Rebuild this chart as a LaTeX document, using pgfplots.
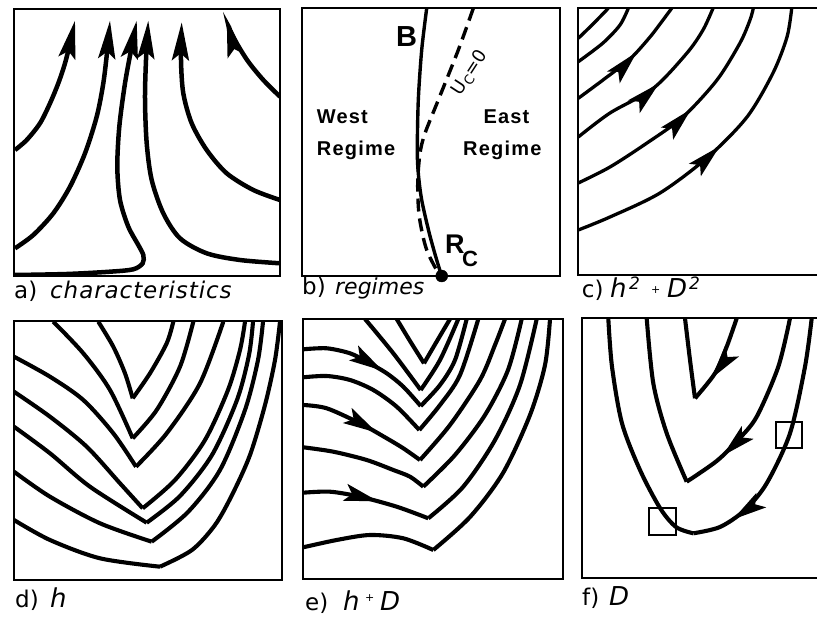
\documentclass[border=0pt]{standalone}
\usepackage{fontspec}
\setmainfont{DejaVu Sans}
\newfontfamily\hv{Liberation Sans}[LetterSpace=6]
\newfontfamily\hvn{Liberation Sans}
\newfontfamily\wide{DejaVu Sans}[LetterSpace=4]
\usepackage{pgfplots}
\pgfplotsset{compat=1.18}
\usetikzlibrary{arrows.meta,decorations.markings}
\pgfplotsset{
 panel/.style={scale only axis, xtick=\empty, ytick=\empty, y dir=reverse,
   axis line style={line width=2.1pt}, anchor=north west},
 cv/.style={line width=4.1pt, black, smooth, no markers},
 endarrow/.style={-{Stealth[length=38pt,width=17pt,inset=7pt]}},
 midarrow/.style={postaction={decorate}, decoration={markings,
   mark=at position #1 with {\arrow{Stealth[length=34pt,width=17pt,inset=7pt]}}}},
}
\newcommand{\lab}{\fontsize{23}{27}\selectfont}
\newcommand{\labi}{\fontsize{26}{30}\selectfont\itshape}
\begin{document}
\begin{tikzpicture}
\useasboundingbox (0,0) rectangle (817pt,618pt);
% ---------------- a) characteristics
\begin{axis}[panel, at={(14pt,609pt)}, width=266pt, height=267pt,
  xmin=14, xmax=280, ymin=9, ymax=276]
\addplot[cv, line width=4.5pt, endarrow] coordinates {(15,150) (26.7,140) (40,123.3) (50,103.3) (58.3,83.3) (65,63.3) (70,43.3) (75,20.7)};
\addplot[cv, line width=4.5pt, endarrow] coordinates {(15,248.3) (33.3,235) (53.3,213.3) (70,186.7) (85,153.3) (96.7,116.7) (103.3,83.3) (107.3,50) (110,20.7)};
\addplot[cv, line width=4.5pt, endarrow] coordinates {(15,275) (66.7,274) (110,271.7) (133.3,269.3) (142.7,263.3) (143.3,255) (138.3,245) (128.3,226.7) (120,200) (117.3,166.7) (119.3,126.7) (125,83.3) (131.7,46.7) (136.7,20.7)};
\addplot[cv, line width=4.5pt, endarrow] coordinates {(280,263.3) (240,260) (206.7,253.3) (180,238.3) (163.3,213.3) (151.7,180) (146.7,143.3) (145,100) (146,60) (148.3,20.7)};
\addplot[cv, line width=4.5pt, endarrow] coordinates {(280,200) (253.3,190) (226.7,173.3) (206.7,150) (191.7,123.3) (183.3,93.3) (181,60) (181.7,22.3)};
\addplot[cv, line width=4.5pt, endarrow] coordinates {(280,96.7) (263.3,80) (248.3,61.7) (236.7,43.3) (230,30) (226.7,19)};
\end{axis}
% ---------------- b) regimes
\begin{axis}[panel, at={(302pt,610pt)}, width=258pt, height=268pt,
  xmin=302, xmax=560, ymin=8, ymax=276, clip=false]
\addplot[cv, line width=3.4pt] coordinates {(426.7,8.3) (421.7,50) (418.3,100) (417.3,150) (418.3,173.3) (421.7,200) (429.3,233.3) (436.7,260) (441.7,276)};
\addplot[cv, line width=3.4pt, dash pattern=on 13pt off 7pt] coordinates {(473.3,8.3) (458.3,50) (438.3,100) (425,133.3) (420,153.3) (417.7,183.3) (419.3,216.7) (426.7,250) (440,276)};
\addplot[only marks, mark=*, mark size=6pt, black] coordinates {(441.7,276)};
\end{axis}
\node[anchor=base west, inner sep=0] at (396pt,571.3pt) {\hvn\bfseries\fontsize{29}{32}\selectfont B};
\node[anchor=base west, inner sep=0] at (316.7pt,494pt) {\hv\bfseries\fontsize{20}{22}\selectfont West};
\node[anchor=base west, inner sep=0] at (316.7pt,462pt) {\hv\bfseries\fontsize{20}{22}\selectfont Regime};
\node[anchor=base west, inner sep=0] at (483.3pt,494pt) {\hv\bfseries\fontsize{20}{22}\selectfont East};
\node[anchor=base west, inner sep=0] at (463pt,462pt) {\hv\bfseries\fontsize{20}{22}\selectfont Regime};
\node[anchor=base west, inner sep=0] at (445pt,364pt) {\hvn\bfseries\fontsize{27}{30}\selectfont R};
\node[anchor=base west, inner sep=0] at (462pt,351.3pt) {\hvn\bfseries\fontsize{22}{24}\selectfont C};
\node[rotate=57, inner sep=1pt] at (470pt,545pt) {\fontsize{18}{22}\selectfont U\raisebox{-3pt}{\fontsize{13}{13}\selectfont C}=0};
% ---------------- c) h^2 + D^2
\begin{axis}[panel, at={(578.3pt,609.7pt)}, width=242pt, height=266.7pt,
  xmin=578.3, xmax=820.3, ymin=8.3, ymax=275]
\addplot[cv, line width=3.3pt] coordinates {(578.3,38.3) (593,24) (608.3,8.3)};
\addplot[cv, line width=3.3pt] coordinates {(578.3,61.7) (603,43) (620,25) (628.3,8.3)};
\addplot[cv, line width=3.3pt, midarrow=0.57] coordinates {(578.3,98.3) (603,80) (630,59) (650,37) (663,20) (671.7,8.3)};
\addplot[cv, line width=3.3pt, midarrow=0.51] coordinates {(578.3,137) (610,113) (653.3,88.3) (687,53) (703,30) (713,8.3)};
\addplot[cv, line width=3.3pt, midarrow=0.53] coordinates {(578.3,183) (610,167) (647,143) (683,117) (717,80) (740,43) (750,20) (753.3,8.3)};
\addplot[cv, line width=3.3pt, midarrow=0.51] coordinates {(578.3,230) (610,217) (660,193) (708,157) (747,117) (773,73) (787,37) (791.7,8.3)};
\end{axis}
% ---------------- d) h
\begin{axis}[panel, at={(14pt,297pt)}, width=268pt, height=259pt,
  xmin=14, xmax=282, ymin=321, ymax=580]
\addplot[cv] coordinates {(98.3,321.7) (113.3,346.7) (125,373.3) (132.7,398.3)};
\addplot[cv] coordinates {(132.7,398.3) (150,373.3) (166.7,343.3) (173.3,321.7)};
\addplot[cv] coordinates {(53.3,321.7) (83.3,353.3) (110,390) (132.7,438.3)};
\addplot[cv] coordinates {(132.7,438.3) (156.7,410) (180,366.7) (193.3,321.7)};
\addplot[cv] coordinates {(14,356.7) (50,376.7) (83.3,400) (113.3,433.3) (136,466.7)};
\addplot[cv] coordinates {(136,466.7) (166.7,433.3) (200,383.3) (223.3,321.7)};
\addplot[cv] coordinates {(14,391.7) (50,416.7) (86.7,446.7) (120,483.3) (142.7,508.3)};
\addplot[cv] coordinates {(142.7,508.3) (175,480) (205,440) (228,390) (240,350) (245,321.7)};
\addplot[cv] coordinates {(14,426.7) (50,453.3) (90,486.7) (146.7,522.7)};
\addplot[cv] coordinates {(146.7,522.7) (180,496) (212,455) (237,400) (249,355) (253,321.7)};
\addplot[cv] coordinates {(14,471.7) (50,496.7) (100,523.3) (151.7,541.7)};
\addplot[cv] coordinates {(151.7,541.7) (188,512) (220,470) (245,410) (258,360) (263,321.7)};
\addplot[cv] coordinates {(14,520) (50,540) (100,558.3) (160,566.7)};
\addplot[cv] coordinates {(160,566.7) (192,550) (215,525) (232,495) (250,455) (265,405) (275,360) (280,321.7)};
\end{axis}
% ---------------- e) h + D
\begin{axis}[panel, at={(303pt,299pt)}, width=260pt, height=260pt,
  xmin=303, xmax=563, ymin=319, ymax=579]
\addplot[cv] coordinates {(396.7,319) (410,341) (424,363.3)};
\addplot[cv] coordinates {(424,363.3) (437,341) (450,319)};
\addplot[cv] coordinates {(365,319) (393.3,353.3) (420.7,390)};
\addplot[cv] coordinates {(420.7,390) (440,360) (458.3,319)};
\addplot[cv, midarrow=0.62] coordinates {(303.3,349.3) (326.7,348.3) (350,353.3) (366.7,361.7) (386.7,373.3) (403.3,386.7) (420.7,406)};
\addplot[cv] coordinates {(420.7,406) (440,385) (455,360) (466.7,319)};
\addplot[cv] coordinates {(303.3,377.3) (326.7,376) (350,380) (373.3,390) (396.7,406.7) (419.3,430)};
\addplot[cv] coordinates {(419.3,430) (440,405) (460,375) (478.3,319)};
\addplot[cv, midarrow=0.61] coordinates {(303.3,405) (326.7,408.3) (360,423.3) (386.7,438.3) (403.3,448.3) (420,460)};
\addplot[cv] coordinates {(420,460) (450,425) (480,380) (495,345) (505,319)};
\addplot[cv] coordinates {(303.3,447.3) (333.3,451.7) (366.7,460) (393.3,470) (410,476.7) (423.3,486.7)};
\addplot[cv] coordinates {(423.3,486.7) (455,455) (485,415) (508,370) (521.7,319)};
\addplot[cv, midarrow=0.59] coordinates {(303.3,492.7) (330,491.7) (360,496.7) (396.7,506.7) (428.3,518.3)};
\addplot[cv] coordinates {(428.3,518.3) (463,487) (495,440) (520,385) (536.7,319)};
\addplot[cv] coordinates {(303.3,547.3) (336.7,540) (370,535) (403.3,538.3) (433.3,550)};
\addplot[cv] coordinates {(433.3,550) (470,517) (503,473) (530,415) (545,365) (550,319)};
\end{axis}
% ---------------- f) D
\begin{axis}[panel, at={(582pt,300pt)}, width=238pt, height=260pt,
  xmin=582, xmax=820, ymin=318, ymax=578]
\addplot[cv] coordinates {(685,318.3) (690,360) (695,398.3)};
\addplot[cv, midarrow=0.72] coordinates {(736.7,318.3) (726.7,346.7) (715,373.3) (695,398.3)};
\addplot[cv] coordinates {(646.7,318.3) (653.3,383.3) (666.7,433.3) (686.7,481.7)};
\addplot[cv, midarrow=0.78] coordinates {(790,318.3) (778.3,366.7) (756.7,416.7) (738,440) (716.7,461) (686.7,481.7)};
\addplot[cv] coordinates {(608.3,318.3) (612,366.7) (622,423.3) (640,470) (660,508) (676,527) (693.3,533.3)};
\addplot[cv, midarrow=0.84] coordinates {(811.7,318.3) (805,366.7) (790,433.3) (766.7,483.3) (745,510) (720,527) (693.3,533.3)};
\addplot[only marks, mark=square, mark size=13.3pt, line width=2.1pt, black] coordinates {(662.5,521.5) (789,435)};
\end{axis}
% ---------------- panel labels
\node[anchor=base west, inner sep=0] at (14pt,319pt) {\lab a)};
\node[anchor=base west, inner sep=0] at (50pt,319pt) {\wide\lab\itshape characteristics};
\node[anchor=base west, inner sep=0] at (302pt,323pt) {\lab b)};
\node[anchor=base west, inner sep=0] at (335pt,323pt) {\fontsize{22}{25}\selectfont\itshape regimes};
\node[anchor=base west, inner sep=0] at (581.7pt,320.3pt) {\lab c)};
\node[anchor=base west, inner sep=0] at (610pt,320.3pt) {\labi h};
\node[anchor=base west, inner sep=0] at (629pt,328pt) {\fontsize{17}{18}\selectfont\itshape 2};
\node[anchor=base west, inner sep=0] at (651pt,324.8pt) {\fontsize{11}{12}\selectfont +};
\node[anchor=base west, inner sep=0] at (667pt,320.3pt) {\labi D};
\node[anchor=base west, inner sep=0] at (689pt,328pt) {\fontsize{17}{18}\selectfont\itshape 2};
\node[anchor=base west, inner sep=0] at (15pt,10.7pt) {\lab d)};
\node[anchor=base west, inner sep=0] at (50pt,10.7pt) {\labi h};
\node[anchor=base west, inner sep=0] at (305pt,7.3pt) {\lab e)};
\node[anchor=base west, inner sep=0] at (343pt,7.3pt) {\labi h};
\node[anchor=base west, inner sep=0] at (365pt,16.5pt) {\fontsize{11}{12}\selectfont +};
\node[anchor=base west, inner sep=0] at (380pt,7.3pt) {\labi D};
\node[anchor=base west, inner sep=0] at (582pt,12pt) {\lab f)};
\node[anchor=base west, inner sep=0] at (609pt,12pt) {\labi D};
\end{tikzpicture}
\end{document}
